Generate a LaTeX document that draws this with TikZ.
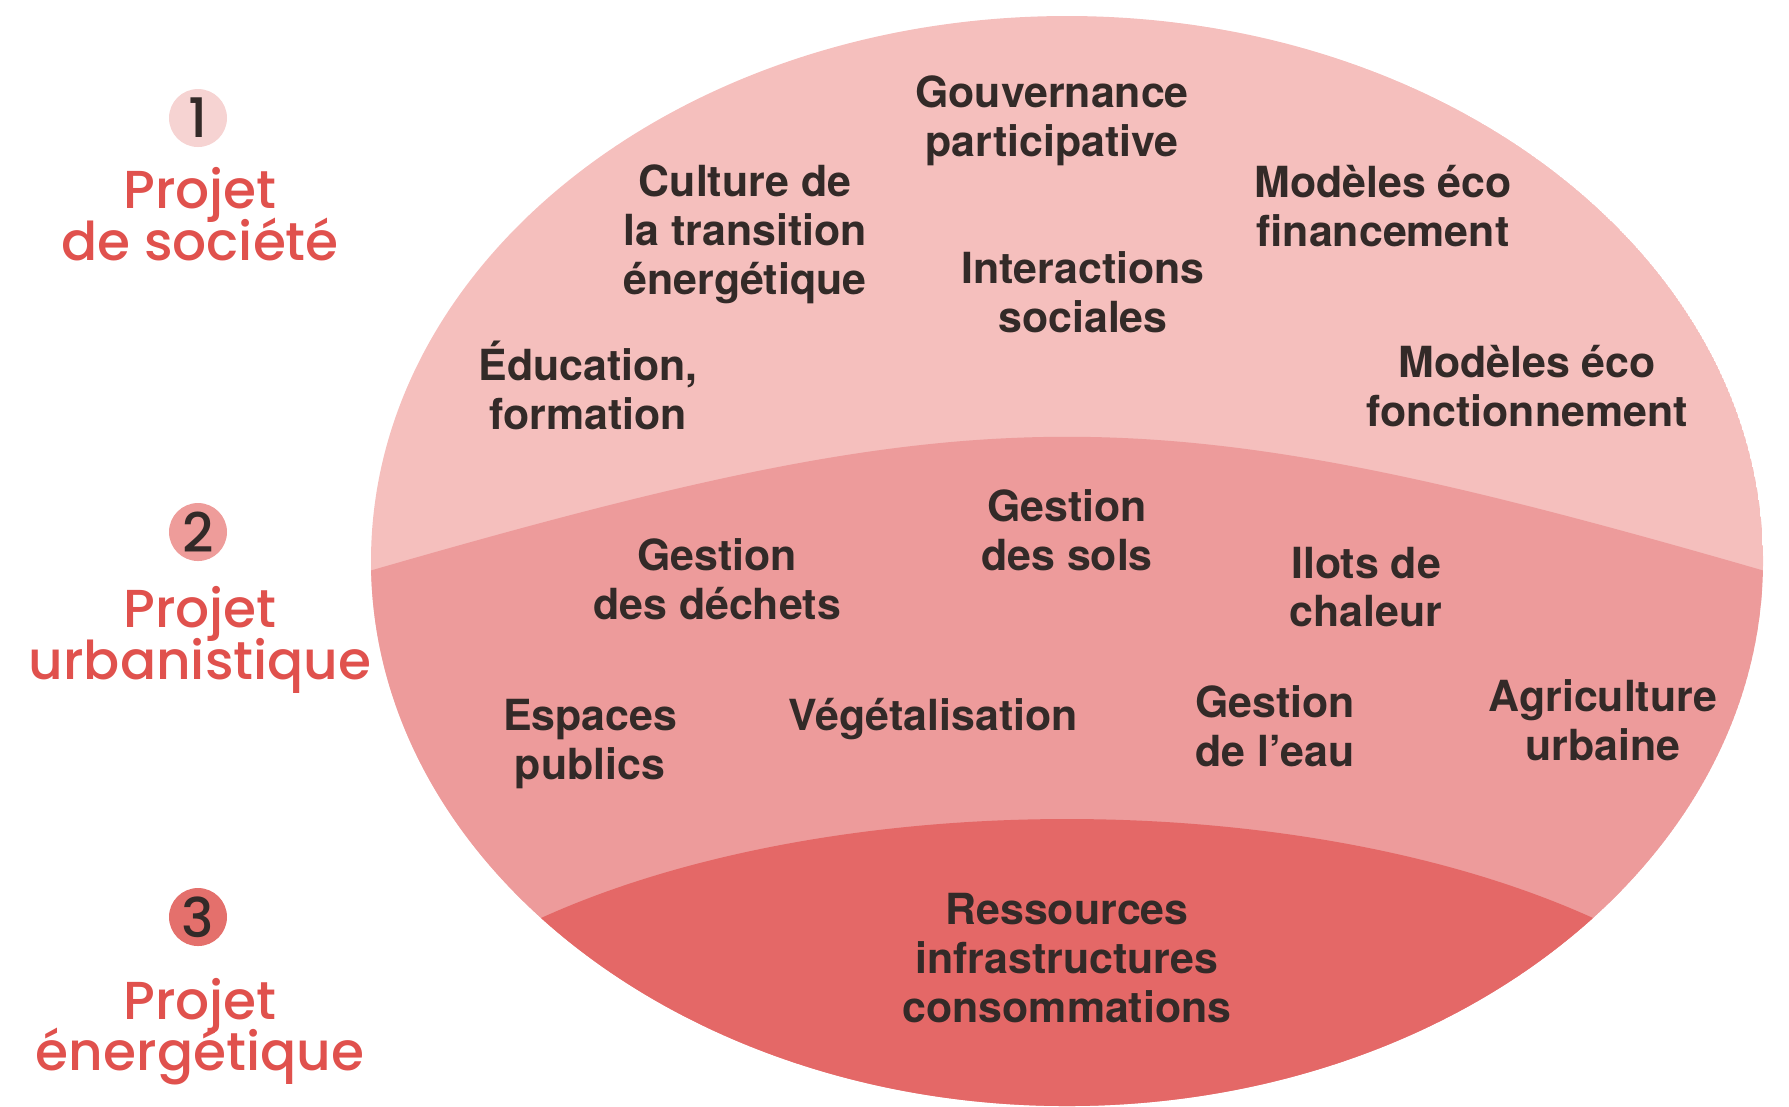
\documentclass[tikz,border=0pt]{standalone}
\usepackage{fontspec}
\setmainfont{TeX Gyre Heros}
\newfontfamily\projfont{Poppins}[UprightFont=* Medium]
\lineskiplimit=-100pt

\definecolor{socpink}{HTML}{F5BFBD}
\definecolor{urbpink}{HTML}{ED9B9B}
\definecolor{enered}{HTML}{E46867}
\definecolor{ink}{HTML}{332A28}
\definecolor{projred}{HTML}{E0514D}
\definecolor{disc1}{HTML}{F6D3D2}
\definecolor{disc2}{HTML}{EE9C9A}
\definecolor{disc3}{HTML}{E4706C}

\begin{document}
\begin{tikzpicture}[x=0.1mm,y=-0.1mm]
    \tikzset{
        topic/.style={align=center,inner sep=0pt,text=ink,
            font=\fontsize{12.2}{13.9}\selectfont\bfseries},
        projet/.style={align=center,inner sep=0pt,text=projred,
            font=\projfont\fontsize{15.2}{14.6}\selectfont},
        numdisc/.style={circle,minimum size=5.8mm,inner sep=0pt,text=ink,
            fill=#1,font=\projfont\fontsize{15.5}{15.5}\selectfont}
    }

    \useasboundingbox (0,0) rectangle (1789,1106);

    % the three layers of the ellipse
    \coordinate (o) at (1067,561);
    \begin{scope}
        \clip (o) ellipse [x radius=696, y radius=545];
        \fill[socpink] (o) ellipse [x radius=696, y radius=545];
        \fill[urbpink] (300,571) -- (369,571)
            .. controls (988,392) and (1146,392) .. (1765,571)
            -- (1800,571) -- (1800,1200) -- (300,1200) -- cycle;
        \fill[enered] (300,918) -- (541,918)
            .. controls (832,786) and (1302,786) .. (1593,918)
            -- (1800,918) -- (1800,1200) -- (300,1200) -- cycle;
    \end{scope}

    % projet de societe
    \node[topic] (gouv) at (1052,121) {Gouvernance\\participative};
    \node[topic] (culture) at (745,234) {Culture de\\la transition\\énergétique};
    \node[topic] (modfin) at (1383,206) {Modèles éco\\financement};
    \node[topic] (inter) at (1083,292) {Interactions\\sociales};
    \node[topic] (educ) at (588,385) {Éducation,\\formation};
    \node[topic] (modfon) at (1527,386) {Modèles éco\\fonctionnement};

    % projet urbanistique
    \node[topic] (sols) at (1067,530) {Gestion\\des sols};
    \node[topic] (dechets) at (717,579) {Gestion\\des déchets};
    \node[topic] (ilots) at (1366,587) {Ilots de\\chaleur};
    \node[topic] (espaces) at (590,744) {Espaces\\publics};
    \node[topic] (veget) at (933,719) {Végétalisation};
    \node[topic] (eau) at (1275,726) {Gestion\\de l’eau};
    \node[topic] (agri) at (1603,720) {Agriculture\\urbaine};

    % projet energetique
    \node[topic] (ress) at (1067,958) {Ressources\\infrastructures\\consommations};

    % legend on the left
    \node[numdisc=disc1] (n1) at (198,118) {1};
    \node[projet] (p1) at (200,214) {Projet\\de société};
    \node[numdisc=disc2] (n2) at (198,532) {2};
    \node[projet] (p2) at (200,640) {Projet\\urbanistique};
    \node[numdisc=disc3] (n3) at (198,917) {3};
    \node[projet] (p3) at (200,1032) {Projet\\énergétique};
\end{tikzpicture}
\end{document}
